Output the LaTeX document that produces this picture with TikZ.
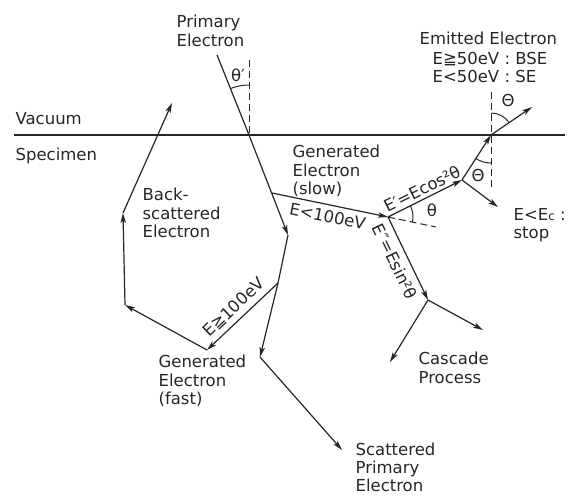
\documentclass[tikz,border=0pt]{standalone}
\usepackage{fontspec}
\setmainfont{DejaVu Sans}
\usetikzlibrary{arrows.meta,angles}
\begin{document}
\begin{tikzpicture}[x=1pt,y=1pt,line width=1.2pt,black!85,
  every node/.style={font=\fontsize{16.5}{18.5}\selectfont,inner sep=0pt,text=black!85},
  txt/.style={align=left,anchor=north west},
  elec/.style={-{Stealth[length=10pt,width=5.5pt,inset=2.5pt]}},
  guide/.style={dash pattern=on 7pt off 4pt,line width=1pt},
  ang/.style={draw,line width=1pt}]
\useasboundingbox (0,0) rectangle (572,-495);
\draw[line width=2.8pt] (14,-135) -- (565,-135);
\coordinate (pstart) at (217,-55);
\coordinate (ptop) at (249,-60);
\coordinate (pin) at (249,-135);
\coordinate (gslow) at (272,-193);
\coordinate (pbend) at (288,-235);
\coordinate (fastsrc) at (278,-283);
\coordinate (pturn) at (260,-357);
\coordinate (pend) at (342,-450);
\coordinate (fastend) at (207,-350);
\coordinate (bsa) at (125,-305);
\coordinate (bsb) at (123,-213);
\coordinate (bsout) at (172,-103);
\coordinate (cbranch) at (388,-217);
\coordinate (dashend) at (436,-227);
\coordinate (cosend) at (462,-180);
\coordinate (exitpt) at (491,-135);
\coordinate (vtop) at (491,-92);
\coordinate (vbot) at (491,-187);
\coordinate (emitend) at (532,-107);
\coordinate (stopend) at (498,-207);
\coordinate (sinend) at (428,-300);
\coordinate (cascr) at (483,-330);
\coordinate (cascl) at (390,-362);
\draw (pstart) -- (pin);
\draw[guide] (ptop) -- (pin);
\draw[elec] (pin) -- (pbend);
\draw (pbend) -- (fastsrc);
\draw[elec] (fastsrc) -- (pturn);
\draw[elec] (pturn) -- (pend);
\draw[elec] (fastsrc) -- node[sloped,above=5pt] {E≧100eV} (fastend);
\draw[elec] (fastend) -- (bsa);
\draw[elec] (bsa) -- (bsb);
\draw[elec] (bsb) -- (bsout);
\draw[elec] (gslow) -- node[sloped,below=4.5pt] {E<100eV} (cbranch);
\draw[guide] (cbranch) -- (dashend);
\draw[elec] (cbranch) -- node[sloped,pos=.52,above=3pt] {E′=Ecos²θ} (cosend);
\draw[elec] (cbranch) -- node[sloped,pos=.47,below=6pt] {E″=Esin²θ} (sinend);
\draw[elec] (cosend) -- (exitpt);
\draw[elec] (cosend) -- (stopend);
\draw[elec] (exitpt) -- (emitend);
\draw[guide] (vtop) -- (vbot);
\draw[elec] (sinend) -- (cascr);
\draw[elec] (sinend) -- (cascl);
\pic[ang,angle radius=50pt] {angle=ptop--pin--pstart};
\pic[ang,angle radius=22pt] {angle=emitend--exitpt--vtop};
\pic[ang,angle radius=28pt] {angle=cosend--exitpt--vbot};
\pic[ang,angle radius=25pt] {angle=dashend--cbranch--cosend};
\node (thprim) at (238,-75) {θ′};
\node (thout) at (508,-100) {Θ};
\node (thin) at (478,-175) {Θ};
\node (thbr) at (432,-210) {θ};
\node[txt] (primlbl) at (176,-14.5) {Primary\\Electron};
\node[anchor=north west] (emitlbl) at (419,-31.5) {Emitted Electron};
\node[txt] (emitcond) at (432,-51.5) {E≧50eV : BSE\\E<50eV : SE};
\node[txt] (vaclbl) at (15,-111.5) {Vacuum};
\node[txt] (speclbl) at (15,-147.5) {Specimen};
\node[txt] (bselbl) at (142,-187.5) {Back-\\scattered\\Electron};
\node[txt] (slowlbl) at (292,-144.5) {Generated\\Electron\\(slow)};
\node[txt] (fastlbl) at (158,-354.5) {Generated\\Electron\\(fast)};
\node[txt] (casclbl) at (418,-351.5) {Cascade\\Process};
\node[txt,font=\fontsize{16.5}{18}\selectfont] (scatlbl) at (355,-442.5) {Scattered\\Primary\\Electron};
\node[txt] (stoplbl) at (513,-207.5) {E<E{\fontsize{12}{12}\selectfont c} :\\stop};
\end{tikzpicture}
\end{document}
